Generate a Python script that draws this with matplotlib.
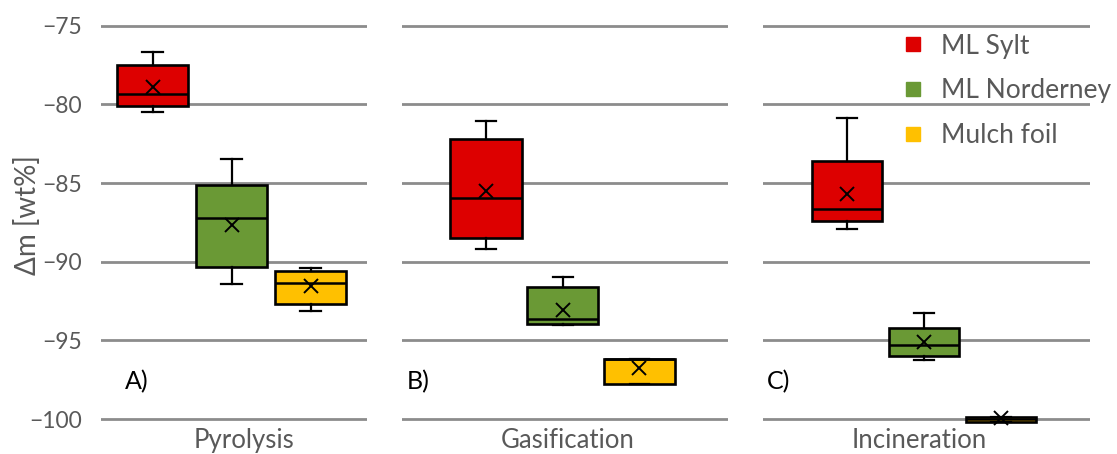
import numpy as np
import matplotlib
matplotlib.use("Agg")
import matplotlib.pyplot as plt
from matplotlib.lines import Line2D

plt.rcParams['font.family'] = ['Lato', 'DejaVu Sans']

#%% data: mass change per process and material (box stats, wt%)
processes = ["Pyrolysis", "Gasification", "Incineration"]
panel_tags = ["A)", "B)", "C)"]
materials = ["ML Sylt", "ML Norderney", "Mulch foil"]
colors = ["#DD0000", "#6A9935", "#FFC000"]

# order of rows: ML Sylt, ML Norderney, Mulch foil
whislo = [[-80.47, -91.44, -93.12],
          [-89.20, -94.00, -97.78],
          [-87.95, -96.25, -100.18]]
q1 = [[-80.08, -90.32, -92.71],
      [-88.48, -93.96, -97.78],
      [-87.42, -95.99, -100.18]]
med = [[-79.36, -87.25, -91.34],
       [-85.97, -93.67, -96.21],
       [-86.65, -95.30, -100.00]]
q3 = [[-77.50, -85.13, -90.60],
      [-82.22, -91.59, -96.21],
      [-83.60, -94.24, -99.90]]
whishi = [[-76.65, -83.47, -90.38],
          [-81.08, -91.00, -96.21],
          [-80.87, -93.28, -99.90]]
means = [[-78.92, -87.67, -91.55],
         [-85.51, -93.07, -96.78],
         [-85.72, -95.13, -99.95]]

#%% layout
W, H = 1117, 454
fig = plt.figure(figsize=(W/100, H/100), dpi=100)

# axes extents in pixels (left, right) and x-limits per panel
ax_px = [(101, 367), (402, 728), (763, 1090)]
xlims = [(-0.652, 2.715), (-1.094, 3.153), (-1.09, 3.156)]
box_w = [0.907, 0.93, 0.92]
ylim = (-100.5, -74.5)
y_top_px, y_bot_px = 17.8, 426.9
label_x = [0.538, 0.508, 0.479]
tag_x = [0.09, 0.014, 0.011]

grey = "#595959"

axes = []
for i, proc in enumerate(processes):
    l, r = ax_px[i]
    ax = fig.add_axes([l/W, (H-y_bot_px)/H, (r-l)/W, (y_bot_px-y_top_px)/H])
    axes.append(ax)
    stats = []
    for j in range(3):
        stats.append(dict(whislo=whislo[i][j], q1=q1[i][j], med=med[i][j],
                          q3=q3[i][j], whishi=whishi[i][j], mean=means[i][j],
                          fliers=[]))
    bp = ax.bxp(stats, positions=[0, 1, 2], widths=box_w[i], patch_artist=True,
                showmeans=True, capwidths=0.26,
                boxprops=dict(linewidth=1.9, edgecolor='black'),
                medianprops=dict(color='black', linewidth=1.8),
                whiskerprops=dict(color='black', linewidth=1.6),
                capprops=dict(color='black', linewidth=1.6),
                meanprops=dict(marker='x', markeredgecolor='black',
                               markersize=10, markeredgewidth=1.4))
    for patch, c in zip(bp['boxes'], colors):
        patch.set_facecolor(c)
    ax.set_xlim(*xlims[i])
    ax.set_ylim(*ylim)
    ax.set_yticks([-100, -95, -90, -85, -80, -75])
    ax.yaxis.grid(True, color='#8C8C8C', linewidth=2)
    ax.set_axisbelow(True)
    ax.set_xticks([])
    for s in ax.spines.values():
        s.set_visible(False)
    ax.tick_params(axis='y', length=0, pad=14, labelsize=16.5, labelcolor=grey)
    if i > 0:
        ax.tick_params(axis='y', labelleft=False)
    ax.text(label_x[i], -0.003, proc, transform=ax.transAxes, ha='center',
            va='top', fontsize=18.5, color=grey)
    ax.text(tag_x[i], -97.6, panel_tags[i], ha='left', va='center',
            transform=ax.get_yaxis_transform(), fontsize=18, color='black')

fig.text(27/W, 1-215/H, "Δm [wt%]", rotation=90, ha='center', va='center',
         fontsize=20, color=grey)

handles = [Line2D([], [], marker='s', linestyle='none', markersize=10,
                  markerfacecolor=c, markeredgecolor=c) for c in colors]
axes[2].legend(handles, materials, loc='upper left', bbox_to_anchor=(0.37, 1.0),
               frameon=False, fontsize=19, labelcolor=grey, labelspacing=0.75,
               handletextpad=0.55, handlelength=1.0, borderaxespad=0.2)

fig.savefig("out.png", dpi=100)
